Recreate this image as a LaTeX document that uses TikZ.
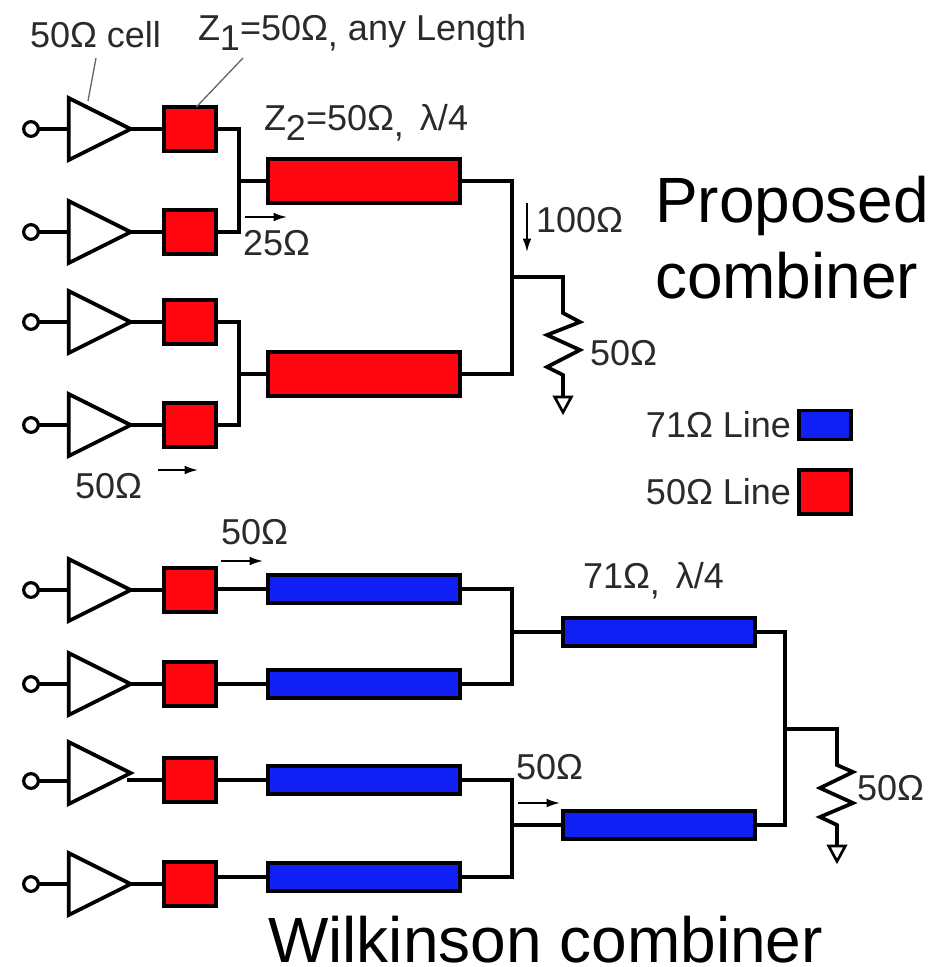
\documentclass[tikz,border=0pt]{standalone}
\usepackage{fontspec}
\setmainfont{Liberation Sans}
\usepackage{xcolor}
\usetikzlibrary{positioning,arrows.meta,shapes.geometric}

\definecolor{linered}{HTML}{FF0510}
\definecolor{lineblue}{HTML}{1020F5}
\definecolor{labelgray}{HTML}{2A2A2A}
\newcommand{\lowered}[1]{\raisebox{-7.5pt}{#1}}
\newcommand{\lowcomma}{\raisebox{-5pt}{,}}

\begin{document}
\begin{tikzpicture}[
    x=0.75pt, y=-0.75pt,
    >=Latex,
    every node/.style={font=\fontsize{27}{31}\selectfont, text=labelgray, inner sep=0pt, outer sep=0pt},
    term/.style={draw=black, circle, line width=2.4pt, minimum size=11pt},
    amp/.style={draw=black, line width=2.8pt, fill=white, isosceles triangle, isosceles triangle stretches, minimum width=46.5pt, minimum height=46.5pt},
    stub/.style={draw=black, line width=2.8pt, fill=linered, minimum width=39pt, minimum height=33pt},
    zred/.style={draw=black, line width=2.8pt, fill=linered, minimum width=144pt, minimum height=33pt},
    zblue/.style={draw=black, line width=2.8pt, fill=lineblue, minimum width=144pt, minimum height=21pt},
    gnd/.style={draw=black, line width=2pt, fill=white, isosceles triangle, isosceles triangle stretches, shape border rotate=270, minimum width=12.5pt, minimum height=11.5pt},
    wire/.style={line width=2.8pt, line join=miter},
    leader/.style={line width=1pt, draw=black!60},
    meas/.style={->, line width=1.4pt, >={Latex[length=10pt,width=6.5pt]}},
    big/.style={font=\fontsize{48}{57}\selectfont, text=black, align=left}
]
\useasboundingbox (0,0) rectangle (932,967);

\node[term] (term1) at (31,129) {};
\node[term] (term2) at (31,232) {};
\node[term] (term3) at (31,322) {};
\node[term] (term4) at (31,425) {};
\node[term] (term5) at (31,590) {};
\node[term] (term6) at (31,684) {};
\node[term] (term7) at (31,781) {};
\node[term] (term8) at (31,884) {};

\node[amp, right=22.75pt of term1] (amp1) {};
\node[amp, right=22.75pt of term2] (amp2) {};
\node[amp, right=22.75pt of term3] (amp3) {};
\node[amp, right=22.75pt of term4] (amp4) {};
\node[amp, right=22.75pt of term5] (amp5) {};
\node[amp, right=22.75pt of term6] (amp6) {};
\node[amp, right=22.75pt of term7, yshift=6pt] (amp7) {};
\node[amp, right=22.75pt of term8] (amp8) {};

\node[stub, right=24.75pt of amp1] (stub1) {};
\node[stub, right=24.75pt of amp2] (stub2) {};
\node[stub, right=24.75pt of amp3] (stub3) {};
\node[stub, right=24.75pt of amp4] (stub4) {};
\node[stub, right=24.75pt of amp5] (stub5) {};
\node[stub, right=24.75pt of amp6] (stub6) {};
\node[stub, right=24.75pt of amp7, yshift=-5.25pt] (stub7) {};
\node[stub, right=24.75pt of amp8] (stub8) {};

\node[zred] (zA) at (364,181) {};
\node[zred] (zB) at (364,374) {};
\node[zblue, right=39pt of stub5, yshift=1pt] (zC) {};
\node[zblue, right=39pt of stub6] (zD) {};
\node[zblue, right=39pt of stub7] (zE) {};
\node[zblue, right=39pt of stub8, yshift=5.25pt] (zF) {};

\coordinate[left=21.75pt of zA] (busA);
\coordinate[left=21.75pt of zB] (busB);
\coordinate (busC) at (512,632);
\coordinate (busD) at (512,825);
\node[zblue, right=38.25pt of busC] (zG) {};
\node[zblue, right=38.25pt of busD] (zH) {};

\coordinate (tapA) at (512,277);
\coordinate (resA) at (563,313);
\coordinate (tapB) at (785,729);
\coordinate (resB) at (837,765);
\node[gnd, anchor=lower side] (gndA) at (563,397) {};
\node[gnd, anchor=lower side] (gndB) at (837,846) {};

\draw[wire] (term1) -- (amp1);
\draw[wire] (term2) -- (amp2);
\draw[wire] (term3) -- (amp3);
\draw[wire] (term4) -- (amp4);
\draw[wire] (term5) -- (amp5);
\draw[wire] (term6) -- (amp6);
\draw[wire] (term7) -- (term7 -| amp7.west);
\draw[wire] (term8) -- (amp8);

\draw[wire] (amp1) -- (stub1);
\draw[wire] (amp2) -- (stub2);
\draw[wire] (amp3) -- (stub3);
\draw[wire] (amp4) -- (stub4);
\draw[wire] (amp5.east) -- (stub5.west);
\draw[wire] (amp6.east) -- (stub6.west);
\draw[wire] ([xshift=-3pt]amp7.east |- stub7.west) -- (stub7.west);
\draw[wire] (amp8.east) -- (stub8.west);

\draw[wire] (stub1.east) -| (busA);
\draw[wire] (stub2.east) -| (busA);
\draw[wire] (busA) -- (zA.west);
\draw[wire] (stub3.east) -| (busB);
\draw[wire] (stub4.east) -| (busB);
\draw[wire] (busB) -- (zB.west);
\draw[wire] (zA.east) -| (tapA) |- (zB.east);
\draw[wire] (tapA) -| (resA) -- ++(17,9) -- ++(-33,13) -- ++(33,15) -- ++(-33,17) -- ++(16,8) -- (gndA.lower side);

\draw[wire] (stub5.east |- zC.west) -- (zC.west);
\draw[wire] (stub6.east) -- (zD.west);
\draw[wire] (stub7.east) -- (zE.west);
\draw[wire] (stub8.east |- zF.west) -- (zF.west);
\draw[wire] (zC.east) -| (busC) |- (zD.east);
\draw[wire] (busC) -- (zG.west);
\draw[wire] (zE.east) -| (busD) |- (zF.east);
\draw[wire] (busD) -- (zH.west);
\draw[wire] (zG.east) -| (tapB) |- (zH.east);
\draw[wire] (tapB) -| (resB) -- ++(16,7) -- ++(-33,16) -- ++(33,15) -- ++(-33,14) -- ++(17,8) -- (gndB.lower side);

\node[anchor=base west] (cellLabel) at (30,47) {50Ω cell};
\node[anchor=base west] (zoneLabel) at (198,40) {Z\lowered{1}=50Ω\lowcomma{} any Length};
\node[anchor=base west] (ztwoLabel) at (264,130) {Z\lowered{2}=50Ω\lowcomma{} \,λ/4};
\node[anchor=base west] (r25) at (243,255) {25Ω};
\node[anchor=base west] (r100) at (536,232) {100Ω};
\node[anchor=base west] (r50a) at (590,365) {50Ω};
\node[anchor=base west] (r50b) at (75,498) {50Ω};
\node[anchor=base west] (r50c) at (221,544) {50Ω};
\node[anchor=base west] (zthreeLabel) at (583,588) {71Ω\lowcomma{} \,λ/4};
\node[anchor=base west] (r50d) at (516,779) {50Ω};
\node[anchor=base west] (r50e) at (857,800) {50Ω};

\node[draw=black, line width=2.6pt, fill=lineblue, minimum width=39pt, minimum height=22pt] (legBlue) at (825,425) {};
\node[draw=black, line width=2.6pt, fill=linered, minimum width=39pt, minimum height=33pt] (legRed) at (825,492) {};
\node[left=6pt of legBlue] (legBlueText) {71Ω Line};
\node[left=6pt of legRed] (legRedText) {50Ω Line};

\node[big, anchor=base west] (propLabel) at (655,222) {Proposed};
\node[big, anchor=base west] (combLabel) at (655,298) {combiner};
\node[big, anchor=base west] (wilkLabel) at (268,962) {Wilkinson combiner};

\coordinate (cellTip) at (96,58);
\coordinate (cellEnd) at (88,101);
\coordinate (zoneTip) at (243,58);
\draw[leader] (cellTip) -- (cellEnd);
\draw[leader] (zoneTip) -- ([xshift=5pt]stub1.north);

\coordinate (m25a) at (245,217);
\coordinate (m25b) at (287,217);
\coordinate (m100a) at (527,203);
\coordinate (m100b) at (527,252);
\coordinate (m50a) at (158,470);
\coordinate (m50b) at (198,470);
\coordinate (m50c) at (221,561);
\coordinate (m50d) at (263,561);
\coordinate (m50e) at (518,803);
\coordinate (m50f) at (560,803);
\draw[meas] (m25a) -- (m25b);
\draw[meas] (m100a) -- (m100b);
\draw[meas] (m50a) -- (m50b);
\draw[meas] (m50c) -- (m50d);
\draw[meas] (m50e) -- (m50f);

\end{tikzpicture}
\end{document}
